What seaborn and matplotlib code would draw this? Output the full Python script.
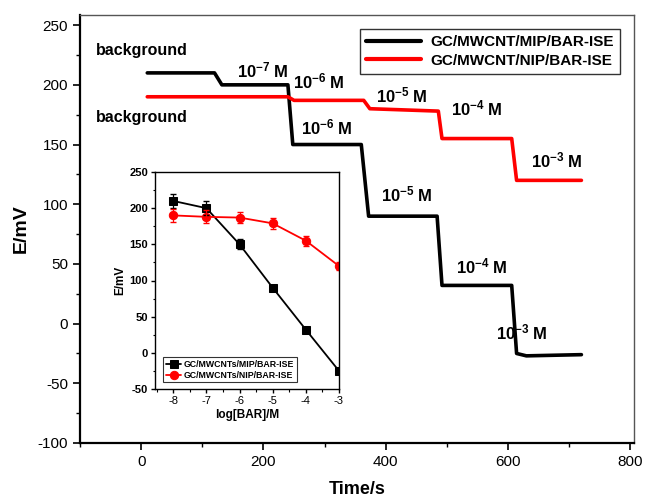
import matplotlib
matplotlib.use("Agg")
import matplotlib.pyplot as plt
import seaborn as sns
import pandas as pd
import numpy as np

# ---- main chart data (step traces) ----
mip_time = [10, 120, 132, 240, 248, 360, 372, 484, 492, 606, 614, 630, 720]
mip_emf = [210, 210, 200, 200, 150, 150, 90, 90, 32, 32, -25, -27, -26]
nip_time = [10, 240, 250, 364, 374, 486, 492, 606, 614, 720]
nip_emf = [190, 190, 187, 187, 180, 178, 155, 155, 120, 120]
series_names = ["GC/MWCNT/MIP/BAR-ISE", "GC/MWCNT/NIP/BAR-ISE"]

# ---- inset calibration data ----
log_conc = [-8, -7, -6, -5, -4, -3]
mip_cal = [210, 200, 150, 90, 32, -25]
mip_err = [10, 10, 7, 3, 3, 3]
nip_cal = [190, 188, 187, 179, 155, 120]
nip_err = [9, 9, 8, 8, 7, 5]
inset_names = ["GC/MWCNTs/MIP/BAR-ISE", "GC/MWCNTs/NIP/BAR-ISE"]

# ---- annotations ----
ann_text = [r"10$^{-7}$ M", r"10$^{-6}$ M", r"10$^{-6}$ M", r"10$^{-5}$ M",
            r"10$^{-5}$ M", r"10$^{-4}$ M", r"10$^{-4}$ M", r"10$^{-3}$ M", r"10$^{-3}$ M"]
ann_x = [199, 291, 304, 426, 434, 549, 557, 680, 623]
ann_y = [212, 203, 164, 191, 108, 180, 48, 137, -7]

sns.set_theme(style="ticks")
plt.rcParams["font.family"] = ["Liberation Sans", "DejaVu Sans"]
plt.rcParams["mathtext.fontset"] = "custom"
plt.rcParams["mathtext.rm"] = "Liberation Sans:bold"
plt.rcParams["mathtext.it"] = "Liberation Sans:bold"
plt.rcParams["mathtext.bf"] = "Liberation Sans:bold"
plt.rcParams["mathtext.default"] = "bf"
plt.rcParams["axes.unicode_minus"] = False
plt.rcParams["text.color"] = "black"
plt.rcParams["axes.labelcolor"] = "black"
plt.rcParams["xtick.color"] = "black"
plt.rcParams["ytick.color"] = "black"

fig = plt.figure(figsize=(6.49, 4.99), dpi=100)
ax = fig.add_axes([80/649, 1-443/499, (634-80)/649, (443-15)/499])

df = pd.concat([
    pd.DataFrame({"t": mip_time, "E": mip_emf, "s": series_names[0]}),
    pd.DataFrame({"t": nip_time, "E": nip_emf, "s": series_names[1]}),
])
sns.lineplot(data=df, x="t", y="E", hue="s", palette=["black", "red"],
             sort=False, estimator=None, lw=2.6, ax=ax)

ax.set_xlim(-100, 806)
ax.set_ylim(-100, 258.5)
ax.set_xticks(np.arange(0, 801, 200))
ax.set_xticks(np.arange(-100, 801, 100), minor=True)
ax.set_yticks(np.arange(-100, 251, 50))
ax.set_yticks(np.arange(-100, 251, 25), minor=True)
ax.tick_params(axis="both", which="major", labelsize=11, length=5, width=1.2, direction="out")
ax.tick_params(axis="both", which="minor", length=3, width=1.0, direction="out")
ax.tick_params(top=False, right=False)
for side in ["left", "bottom"]:
    ax.spines[side].set_linewidth(1.6)
    ax.spines[side].set_color("black")
for side in ["top", "right"]:
    ax.spines[side].set_visible(True)
    ax.spines[side].set_linewidth(1.0)
    ax.spines[side].set_color("#555555")
ax.set_xlabel("Time/s", fontsize=13, fontweight="bold", labelpad=9)
ax.set_ylabel("E/mV", fontsize=14, fontweight="bold", labelpad=6)

leg = ax.legend(loc="upper right", bbox_to_anchor=(0.988, 0.985), frameon=True,
                fancybox=False, edgecolor="black", handlelength=3.6,
                prop={"weight": "bold", "size": 11}, borderpad=0.4,
                labelspacing=0.3, handletextpad=0.6)
leg.get_frame().set_linewidth(1.0)
for line in leg.get_lines():
    line.set_linewidth(3)

ax.text(-74, 229, "background", fontsize=11.5, fontweight="bold", ha="left", va="center")
ax.text(-74, 173, "background", fontsize=11.5, fontweight="bold", ha="left", va="center")
for s, x, y in zip(ann_text, ann_x, ann_y):
    ax.text(x, y, s, fontsize=12, fontweight="bold", ha="center", va="center")

# ---- inset ----
ins = fig.add_axes([155/649, 1-389/499, (339-155)/649, (389-172)/499])
idf = pd.concat([
    pd.DataFrame({"x": log_conc, "E": mip_cal, "s": inset_names[0]}),
    pd.DataFrame({"x": log_conc, "E": nip_cal, "s": inset_names[1]}),
])
sns.lineplot(data=idf, x="x", y="E", hue="s", style="s", palette=["black", "red"],
             markers=["s", "o"], dashes=False, markersize=6, lw=1.3,
             markeredgecolor=None, estimator=None, ax=ins, clip_on=True)
ins.errorbar(log_conc, mip_cal, yerr=mip_err, fmt="none", ecolor="black", elinewidth=0.9, capsize=2)
ins.errorbar(log_conc, nip_cal, yerr=nip_err, fmt="none", ecolor="red", elinewidth=0.9, capsize=2)
ins.set_xlim(-8.55, -3.0)
ins.set_ylim(-50, 250)
ins.set_xticks(np.arange(-8, -2, 1))
ins.set_xticks(np.arange(-8.5, -2.9, 0.5), minor=True)
ins.set_yticks(np.arange(-50, 251, 50))
ins.set_yticks(np.arange(-50, 251, 25), minor=True)
ins.tick_params(axis="both", which="major", labelsize=8, length=3, width=1.0, direction="out", pad=2)
ins.tick_params(axis="both", which="minor", length=1.8, width=0.8, direction="out")
for lab in ins.get_yticklabels():
    lab.set_fontweight("bold")
for side in ins.spines.values():
    side.set_linewidth(1.0)
    side.set_color("black")
ins.set_xlabel("log[BAR]/M", fontsize=8.5, fontweight="bold", labelpad=2)
ins.set_ylabel("E/mV", fontsize=8.5, fontweight="bold", labelpad=2)
ileg = ins.legend(loc="lower left", bbox_to_anchor=(0.02, 0.01), frameon=True, fancybox=False,
                  edgecolor="black", prop={"weight": "bold", "size": 6.3},
                  borderpad=0.3, labelspacing=0.2, handlelength=1.8, handletextpad=0.3)
ileg.get_frame().set_linewidth(0.8)

fig.savefig("out.png", dpi=100)
